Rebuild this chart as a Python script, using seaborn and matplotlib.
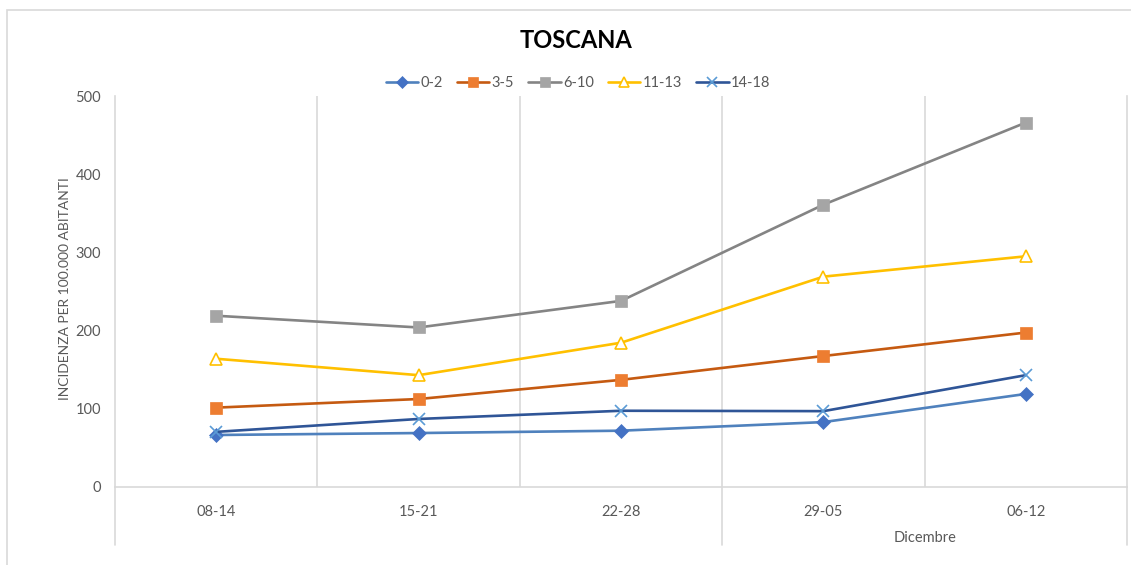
import matplotlib
matplotlib.use("Agg")
import matplotlib.pyplot as plt
import matplotlib.transforms as mtransforms
from matplotlib.lines import Line2D
from matplotlib.patches import Rectangle
import seaborn as sns
import pandas as pd

# ---- data ----
categories = ["08-14", "15-21", "22-28", "29-05", "06-12"]
series_names = ["0-2", "3-5", "6-10", "11-13", "14-18"]
v_0_2 = [66.5, 69, 72, 83, 119]
v_3_5 = [101.5, 112.5, 137, 167.5, 197.5]
v_6_10 = [219, 204, 238, 361, 466]
v_11_13 = [164, 143, 184.5, 269, 295]
v_14_18 = [70.5, 87, 97.5, 97, 143]
y_ticks = [0, 100, 200, 300, 400, 500]
group_label = "Dicembre"
title = "TOSCANA"
y_label = "INCIDENZA PER 100.000 ABITANTI"

values = [v_0_2, v_3_5, v_6_10, v_11_13, v_14_18]
rows = []
for name, vals in zip(series_names, values):
    for c, v in zip(categories, vals):
        rows.append({"period": c, "serie": name, "value": v})
df = pd.DataFrame(rows)

# ---- styles ----
styles = {
    "0-2":   dict(line="#4F81BD", mfc="#4472C4", mec="#4472C4", marker="D", ms=7),
    "3-5":   dict(line="#C55A11", mfc="#ED7D31", mec="#ED7D31", marker="s", ms=8),
    "6-10":  dict(line="#848484", mfc="#A5A5A5", mec="#A5A5A5", marker="s", ms=8),
    "11-13": dict(line="#FFC000", mfc="white", mec="#FFC000", marker="^", ms=8),
    "14-18": dict(line="#2F5597", mfc="none", mec="#5B9BD5", marker="x", ms=8),
}

sns.set_theme(style="white")
plt.rcParams["font.family"] = ["Lato", "DejaVu Sans"]

fig = plt.figure(figsize=(11.31, 5.65), dpi=100)
ax = fig.add_axes([115 / 1131, 1 - 487 / 565, (1127 - 115) / 1131, (487 - 96) / 565])

grid_col = "#D9D9D9"
txt_col = "#595959"
fs = 10.5
# vertical category-boundary gridlines
for b in [0.5, 1.5, 2.5, 3.5]:
    ax.axvline(b, color=grid_col, lw=1.2, zorder=0)

for name in series_names:
    st = styles[name]
    sub = df[df["serie"] == name]
    sns.lineplot(data=sub, x="period", y="value", ax=ax, color=st["line"], lw=1.9,
                 marker=st["marker"], markersize=st["ms"], markerfacecolor=st["mfc"],
                 markeredgecolor=st["mec"], markeredgewidth=1.2 if st["marker"] in "^x" else 0.5,
                 sort=False, zorder=3, clip_on=False)

ax.set_xlim(-0.5, 4.5)
ax.set_ylim(0, 500)
ax.set_yticks(y_ticks)
ax.set_xticks(range(len(categories)))
ax.set_xticklabels(categories)
ax.set_xlabel("")
ax.set_ylabel(y_label, fontsize=10, color=txt_col)
ax.yaxis.set_label_coords((71 - 115) / 1012, (487 - 289) / 391)
ax.tick_params(axis="both", length=0, labelsize=fs, labelcolor=txt_col)
ax.tick_params(axis="x", pad=13)
ax.tick_params(axis="y", pad=10)

ax.spines["top"].set_visible(False)
for s in ["left", "right", "bottom"]:
    ax.spines[s].set_color(grid_col)
    ax.spines[s].set_linewidth(1.2)

# multi-level category separators below the axis
trans = mtransforms.blended_transform_factory(ax.transData, ax.transAxes)
ext = -(545 - 487) / (487 - 96)
for b in [-0.5, 2.5, 4.5]:
    ax.add_line(Line2D([b, b], [0, ext], transform=trans, color=grid_col, lw=1.2, clip_on=False))
ax.text(3.5, -(538 - 487) / (487 - 96), group_label, transform=trans, ha="center", va="center",
        fontsize=fs, color=txt_col)

# title
fig.text(576 / 1131, 1 - 40 / 565, title, ha="center", va="center", fontsize=17,
         fontweight="bold", color="black")

# legend
handles = []
for name in series_names:
    st = styles[name]
    handles.append(Line2D([0], [0], color=st["line"], lw=1.9, marker=st["marker"],
                          markersize=st["ms"] - 1, markerfacecolor=st["mfc"],
                          markeredgecolor=st["mec"], markeredgewidth=1.2 if st["marker"] in "^x" else 0.5))
fig.legend(handles, series_names, loc="center", bbox_to_anchor=(578 / 1131, 1 - 83 / 565),
           ncol=5, frameon=False, fontsize=fs, handlelength=2.2, columnspacing=1.0,
           handletextpad=0.15, labelcolor=txt_col)

# chart border
fig.patches.append(Rectangle((7 / 1131, -0.05), 1.2, 1 - 10 / 565 + 0.05, transform=fig.transFigure,
                             fill=False, edgecolor="#D9D9D9", lw=1.2))

fig.savefig("out.png", dpi=100, facecolor="white")
